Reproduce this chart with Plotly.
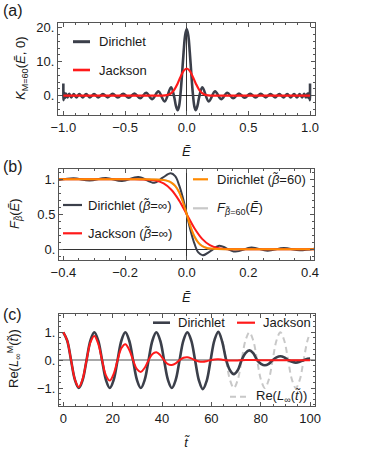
import plotly.graph_objects as go

W, H = 374, 459

# ---------------- data: panel (a) ----------------
a_dir_E = [-1.0, -0.9987, -0.9947, -0.9881, -0.9789, -0.9670, -0.9526, -0.9357, -0.9163, -0.8945,
           -0.8703, -0.8438, -0.8150, -0.7841, -0.7511, -0.7161, -0.6793, -0.6406, -0.6003, -0.5583,
           -0.5148, -0.4700, -0.4239, -0.3767, -0.3285, -0.2795, -0.2297, -0.1793, -0.1270, -0.1000,
           -0.0875, -0.0737, -0.0625, -0.0500, -0.0375, -0.0250, -0.0125, 0.0,
           0.0125, 0.0250, 0.0375, 0.0500, 0.0625, 0.0737, 0.0875, 0.1000, 0.1270, 0.1793,
           0.2297, 0.2795, 0.3285, 0.3767, 0.4239, 0.4700, 0.5148, 0.5583, 0.6003, 0.6406,
           0.6793, 0.7161, 0.7511, 0.7841, 0.8150, 0.8438, 0.8703, 0.8945, 0.9163, 0.9357,
           0.9526, 0.9670, 0.9789, 0.9881, 0.9947, 0.9987, 1.0]
a_dir_K = [3.6, -1.3, 0.9, -0.7, 0.6, -0.55, 0.52, -0.5, 0.5, -0.5,
           0.5, -0.5, 0.5, -0.5, 0.5, -0.5, 0.5, -0.51, 0.52, -0.54,
           0.56, -0.6, 0.66, -0.74, 0.86, -1.02, 1.28, -1.70, 2.50, -0.60,
           -2.95, -4.25, -3.2, 0.6, 6.45, 12.8, 17.8, 19.6,
           17.8, 12.8, 6.45, 0.6, -3.2, -4.25, -2.95, -0.60, 2.50, -1.70,
           1.28, -1.02, 0.86, -0.74, 0.66, -0.6, 0.56, -0.54, 0.52, -0.51,
           0.5, -0.5, 0.5, -0.5, 0.5, -0.5, 0.5, -0.5, 0.5, -0.5,
           0.52, -0.55, 0.6, -0.7, 0.9, -1.3, 3.6]
a_jac_E = [-1.0, -0.6, -0.3, -0.2, -0.175, -0.15, -0.125, -0.1, -0.075, -0.05, -0.025, 0.0,
           0.025, 0.05, 0.075, 0.1, 0.125, 0.15, 0.175, 0.2, 0.3, 0.6, 1.0]
a_jac_K = [0.0, 0.0, 0.0, 0.02, 0.08, 0.28, 0.78, 1.81, 3.47, 5.52, 7.29, 8.0,
           7.29, 5.52, 3.47, 1.81, 0.78, 0.28, 0.08, 0.02, 0.0, 0.0, 0.0]
a_xticks = [-1.0, -0.5, 0.0, 0.5, 1.0]
a_xticktext = ["\u22121.0", "\u22120.5", "0.0", "0.5", "1.0"]
a_yticks = [0, 10, 20]
a_yticktext = ["0.", "10.", "20."]

# ---------------- data: panel (b) ----------------
b_dir_E = [-0.42, -0.367, -0.315, -0.262, -0.21, -0.157, -0.105, -0.078, -0.052, -0.0375, -0.025,
           -0.0125, 0.0, 0.0125, 0.025, 0.0375, 0.052, 0.078, 0.105, 0.157, 0.21, 0.262, 0.315,
           0.367, 0.42]
b_dir_F = [0.987, 1.014, 0.983, 1.020, 0.975, 1.033, 0.951, 1.023, 1.085, 1.045, 0.92,
           0.735, 0.5, 0.265, 0.08, -0.045, -0.085, -0.023, 0.049, -0.033, 0.025, -0.020, 0.017,
           -0.014, 0.013]
b_jac_E = [-0.42, -0.25, -0.175, -0.15, -0.125, -0.1, -0.075, -0.05, -0.025, 0.0, 0.025, 0.05,
           0.075, 0.1, 0.125, 0.15, 0.175, 0.25, 0.42]
b_jac_F = [1.0, 1.0, 0.9998, 0.999, 0.995, 0.981, 0.941, 0.851, 0.699, 0.5, 0.301, 0.149,
           0.059, 0.019, 0.005, 0.001, 0.0002, 0.0, 0.0]
b_d60_E = [-0.42, -0.2, -0.15, -0.1, -0.075, -0.0625, -0.05, -0.0375, -0.025, -0.0125, 0.0,
           0.0125, 0.025, 0.0375, 0.05, 0.0625, 0.075, 0.1, 0.15, 0.2, 0.42]
b_d60_F = [1.0, 1.0, 0.9999, 0.9975, 0.989, 0.977, 0.953, 0.905, 0.818, 0.679, 0.5,
           0.321, 0.182, 0.095, 0.047, 0.023, 0.011, 0.0025, 0.0001, 0.0, 0.0]
b_fermi_E = [-0.42, -0.2, -0.15, -0.1, -0.075, -0.0625, -0.05, -0.0375, -0.025, -0.0125, 0.0,
             0.0125, 0.025, 0.0375, 0.05, 0.0625, 0.075, 0.1, 0.15, 0.2, 0.42]
b_fermi_F = [1.0, 1.0, 0.9999, 0.9975, 0.989, 0.977, 0.953, 0.905, 0.818, 0.679, 0.5,
             0.321, 0.182, 0.095, 0.047, 0.023, 0.011, 0.0025, 0.0001, 0.0, 0.0]
b_xticks = [-0.4, -0.2, 0.0, 0.2, 0.4]
b_xticktext = ["\u22120.4", "\u22120.2", "0.0", "0.2", "0.4"]
b_yticks = [0, 0.5, 1]
b_yticktext = ["0.", "0.5", "1."]

# ---------------- data: panel (c) ----------------
c_t = [0.0, 1.571, 3.142, 4.712, 6.283, 7.854, 9.425, 10.996, 12.566, 14.137, 15.708, 17.279,
       18.850, 20.420, 21.991, 23.562, 25.133, 26.704, 28.274, 29.845, 31.416, 32.987, 34.558,
       36.128, 37.699, 39.270, 40.841, 42.412, 43.982, 45.553, 47.124, 48.695, 50.265, 51.836,
       53.407, 54.978, 56.549, 58.119, 59.690, 61.261, 62.832, 64.403, 65.973, 67.544, 69.115,
       70.686, 72.257, 73.827, 75.398, 76.969, 78.540, 80.111, 81.681, 83.252, 84.823, 86.394,
       87.965, 89.535, 91.106, 92.677, 94.248, 95.819, 97.389, 98.960, 100.0]
c_dir = [1.0, 0.707, 0.0, -0.707, -1.0, -0.707, 0.0, 0.707, 1.0, 0.707, 0.0, -0.707,
         -1.0, -0.707, 0.0, 0.707, 1.0, 0.707, 0.0, -0.707, -1.0, -0.707, 0.0,
         0.707, 1.0, 0.707, 0.0, -0.707, -1.0, -0.707, 0.0, 0.71, 1.0, 0.71,
         0.0, -0.73, -1.04, -0.74, 0.0, 0.72, 1.02, 0.66, 0.02, -0.36, -0.5,
         -0.36, 0.0, 0.25, 0.35, 0.25, 0.0, -0.13, -0.18, -0.13, 0.0, 0.1,
         0.14, 0.1, 0.0, -0.06, -0.09, -0.06, 0.0, 0.05, 0.06]
c_jac = [1.0, 0.705, 0.0, -0.694, -0.966, -0.670, 0.0, 0.636, 0.87, 0.593, 0.0, -0.544,
         -0.733, -0.490, 0.0, 0.434, 0.574, 0.377, 0.0, -0.323, -0.42, -0.272, 0.0,
         0.224, 0.286, 0.182, 0.0, -0.145, -0.17, -0.114, 0.0, 0.088, 0.108, 0.066,
         0.0, -0.049, -0.06, -0.036, 0.0, 0.026, 0.031, 0.018, 0.0, -0.01, -0.015,
         -0.008, 0.0, 0.005, 0.007, 0.004, 0.0, -0.002, -0.003, -0.002, 0.0, 0.001,
         0.001, 0.0, 0.0, 0.0, 0.0, 0.0, 0.0, 0.0, 0.0]
c_inf_t = [62.832, 64.403, 65.973, 67.544, 69.115, 70.686, 72.257, 73.827, 75.398, 76.969,
           78.540, 80.111, 81.681, 83.252, 84.823, 86.394, 87.965, 89.535, 91.106, 92.677,
           94.248, 95.819, 97.389, 98.960, 100.0]
c_inf = [1.0, 0.707, 0.0, -0.707, -1.0, -0.707, 0.0, 0.707, 1.0, 0.707,
         0.0, -0.707, -1.0, -0.707, 0.0, 0.707, 1.0, 0.707, 0.0, -0.707,
         -1.0, -0.707, 0.0, 0.707, 0.965]
c_xticks = [0, 20, 40, 60, 80, 100]
c_xticktext = ["0", "20", "40", "60", "80", "100"]
c_yticks = [-1, 0, 1]
c_yticktext = ["\u22121.", "0.", "1."]

# ---------------- styles ----------------
DARK = "#3b3f4a"
RED = "#ff1a1a"
ORANGE = "#ff8a00"
LGRAY = "#c8c8c8"
FONT = "Liberation Sans, Arial, sans-serif"
FS = 13


def px(x):
    return x / W


def py(y):
    return 1 - y / H


fig = go.Figure()


def line_trace(x, y, xa, ya, color, width, dash=None):
    ln = dict(color=color, width=width, shape="spline", smoothing=1.0)
    if dash:
        ln["dash"] = dash
    fig.add_trace(go.Scatter(x=x, y=y, xaxis=xa, yaxis=ya, mode="lines", line=ln,
                             showlegend=False, hoverinfo="skip"))


# panel (a)
line_trace(a_dir_E, a_dir_K, "x", "y", DARK, 2.6)
line_trace(a_jac_E, a_jac_K, "x", "y", RED, 2.2)
# panel (b)
line_trace(b_fermi_E, b_fermi_F, "x2", "y2", LGRAY, 2.0)
line_trace(b_dir_E, b_dir_F, "x2", "y2", DARK, 2.0)
line_trace(b_jac_E, b_jac_F, "x2", "y2", RED, 2.0)
line_trace(b_d60_E, b_d60_F, "x2", "y2", ORANGE, 2.0)
# panel (c)
line_trace(c_inf_t, c_inf, "x3", "y3", LGRAY, 2.0, dash="6px,4px")
line_trace(c_t, c_dir, "x3", "y3", DARK, 2.6)
line_trace(c_t, c_jac, "x3", "y3", RED, 2.0)


def axis(domain, rng, tickvals, ticktext, minor_dtick, anchor, zeroline=False, zcolor="#000000",
         zwidth=0.8):
    return dict(domain=domain, range=rng, anchor=anchor, tickvals=tickvals, ticktext=ticktext,
                ticks="inside", ticklen=4, tickwidth=1, tickcolor="#555555",
                showline=True, linecolor="#555555", linewidth=1, mirror="allticks",
                showgrid=False, zeroline=zeroline, zerolinecolor=zcolor, zerolinewidth=zwidth,
                automargin=False, fixedrange=True,
                minor=dict(dtick=minor_dtick, ticks="inside", ticklen=2, tickcolor="#555555",
                           showgrid=False),
                tickfont=dict(family=FONT, size=FS, color="#1a1a1a"))


fig.update_layout(
    width=W, height=H, margin=dict(l=0, r=0, t=0, b=0),
    paper_bgcolor="white", plot_bgcolor="white",
    font=dict(family=FONT, size=FS, color="#1a1a1a"),
    hovermode=False,
    xaxis=axis([px(58), px(315)], [-1.0434, 1.0402], a_xticks, a_xticktext, 0.1, "y",
               zeroline=True),
    yaxis=axis([py(115), py(23)], [-5.68, 21.38], a_yticks, a_yticktext, 2, "x",
               zeroline=True),
    xaxis2=axis([px(59), px(314)], [-0.4143, 0.4128], b_xticks, b_xticktext, 0.05, "y2",
                zeroline=True),
    yaxis2=axis([py(260), py(169.3)], [-0.153, 1.143], b_yticks, b_yticktext, 0.1, "x2",
                zeroline=True),
    xaxis3=axis([px(59), px(315)], [-1.74, 102.0], c_xticks, c_xticktext, 5, "y3"),
    yaxis3=axis([py(406), py(314)], [-1.645, 1.657], c_yticks, c_yticktext, 0.2, "x3",
                zeroline=True, zcolor="#a8a8a8", zwidth=1.5),
)

shapes = []
ann = []


def leg_line(x0, x1, y, color, width=2.6, dash=None):
    ln = dict(color=color, width=width)
    if dash:
        ln["dash"] = dash
    shapes.append(dict(type="line", xref="paper", yref="paper", x0=px(x0), x1=px(x1),
                       y0=py(y), y1=py(y), line=ln))


def text(x, y, s, size=FS, xanchor="left", angle=0):
    ann.append(dict(x=px(x), y=py(y), xref="paper", yref="paper", text=s, showarrow=False,
                    xanchor=xanchor, yanchor="middle", textangle=angle,
                    font=dict(family=FONT, size=size, color="#1a1a1a")))


# panel labels
text(1, 11, "(a)", size=16)
text(1, 166, "(b)", size=16)
text(1, 314, "(c)", size=16)

# axis titles
text(21, 68, "<i>K</i><sub>M=60</sub>(<i>Ẽ</i>, 0)", xanchor="center", angle=-90)
text(186.7, 151, "<i>Ẽ</i>", xanchor="center")
text(15, 214, "<i>F</i><sub><i>β̃</i></sub>(<i>Ẽ</i>)", xanchor="center", angle=-90)
text(186.7, 297, "<i>Ẽ</i>", xanchor="center")
text(14, 359, "Re(<i>L</i><sub>∞</sub><sup>M</sup>(<i>t̃</i>))", xanchor="center", angle=-90)
text(186.7, 442, "<i>t̃</i>", xanchor="center")

# legends (a)
leg_line(73, 90, 41.7, DARK, 3)
text(97, 41.7, "Dirichlet")
leg_line(73, 90, 70, RED, 2.6)
text(97, 70, "Jackson")

# legends (b)
leg_line(63, 82, 205, DARK, 2.2)
text(86, 205, "Dirichlet (<i>β̃</i>=∞)")
leg_line(63, 82, 233.3, RED, 2.2)
text(86, 233.3, "Jackson (<i>β̃</i>=∞)")
leg_line(193, 208, 179.3, ORANGE, 2.2)
text(215, 179.3, "Dirichlet (<i>β̃</i>=60)")
leg_line(193, 208, 208.3, LGRAY, 2.2)
text(215, 208.3, "<i>F</i><sub><i>β̃</i>=60</sub>(<i>Ẽ</i>)")

# legends (c)
leg_line(153, 170, 322.7, DARK, 2.6)
text(176, 322.7, "Dirichlet")
leg_line(237, 255, 322.7, RED, 2.2)
text(261, 322.7, "Jackson")
leg_line(230, 250, 396.7, LGRAY, 2.0, dash="6px,4px")
text(254, 396.7, "Re(<i>L</i><sub>∞</sub>(<i>t̃</i>))")

fig.update_layout(shapes=shapes, annotations=ann)
fig.write_html("out.html", config={"displayModeBar": False, "staticPlot": True},
               post_script="document.body.style.margin='0';document.body.style.padding='0';")
